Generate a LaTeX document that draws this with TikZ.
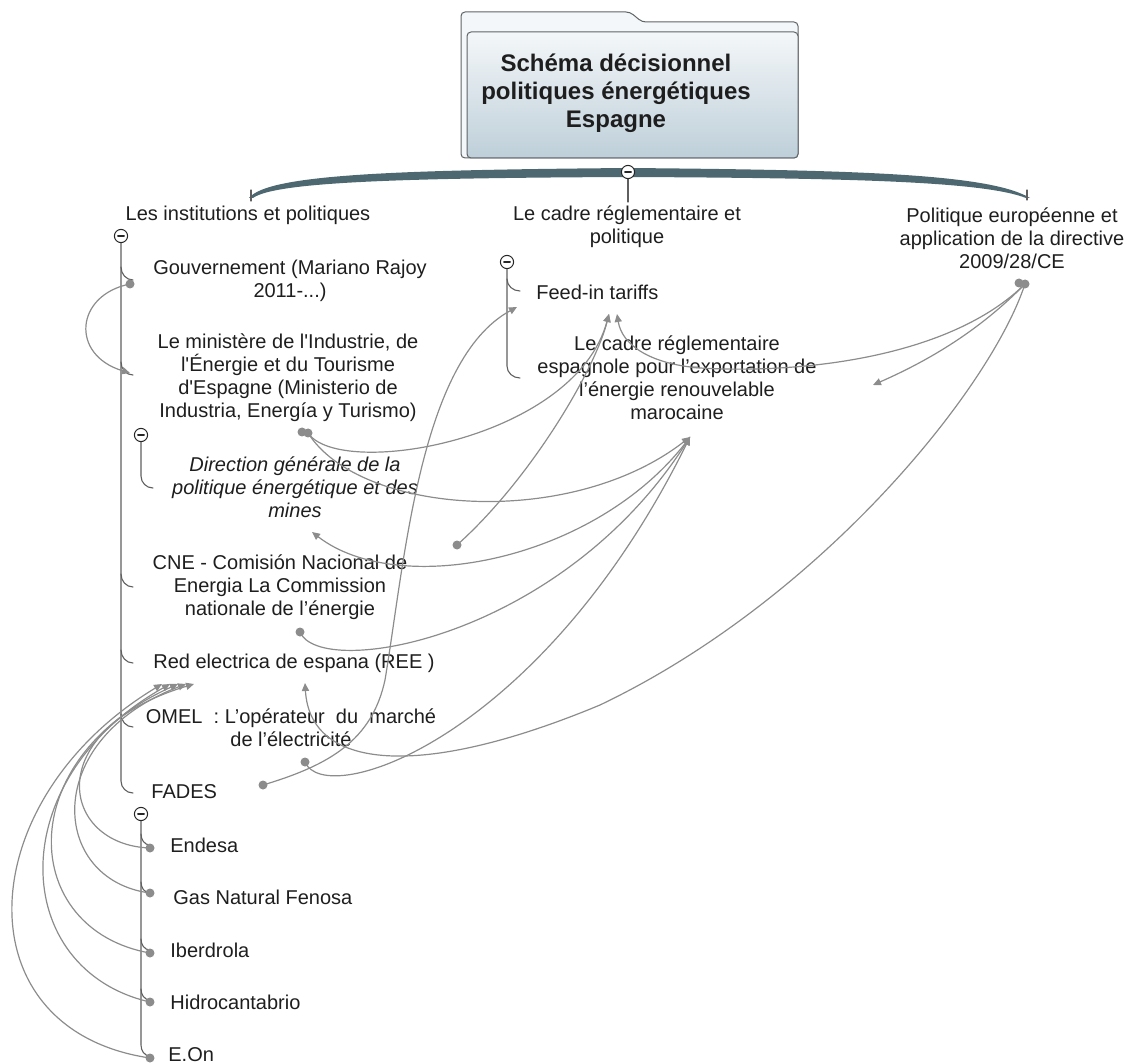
\documentclass[tikz,border=0pt]{standalone}
\usepackage{fontspec}
\setmainfont{Liberation Sans}
\usetikzlibrary{arrows.meta}
\definecolor{linkgray}{RGB}{140,140,140}
\definecolor{treegray}{RGB}{95,95,95}
\definecolor{bandcol}{RGB}{78,104,114}
\definecolor{boxtop}{RGB}{244,247,249}
\definecolor{boxbot}{RGB}{190,207,217}
\definecolor{boxline}{RGB}{95,100,104}
\definecolor{ink}{RGB}{30,30,30}
\newcommand{\apos}{\textquotesingle}
\tikzset{
  topic/.style={align=center,inner sep=0pt,text=ink,font=\fontsize{10}{11.5}\selectfont},
  knob/.style={circle,draw=black!85,fill=white,minimum size=6.6pt,inner sep=0pt,line width=.5pt,
    path picture={\draw[line width=.6pt] ([xshift=-1.6pt]path picture bounding box.center) -- ([xshift=1.6pt]path picture bounding box.center);}},
  tree/.style={draw=treegray,line width=.55pt},
  link/.style={draw=linkgray,line width=.6pt,-{Triangle[length=4pt,width=3.6pt]}},
  linkdot/.style={circle,fill=linkgray,inner sep=0pt,minimum size=4.5pt}
}
\begin{document}
\begin{tikzpicture}[x=0.5pt,y=-0.5pt,line join=round,line cap=round]
\useasboundingbox (0,0) rectangle (1131,1064);
% central topic
\draw[boxline,fill=boxtop,rounded corners=2pt,line width=.5pt] (461,158) -- (461,12) -- (630,12) -- (642,22) -- (798,22) -- (798,158) -- cycle;
\draw[boxline,top color=boxtop,bottom color=boxbot,rounded corners=2pt,line width=.5pt] (467,32) rectangle (798,158);
\node[topic,font=\fontsize{12}{14}\selectfont\bfseries] (root) at (616,93) {Schéma décisionnel\\politiques énergétiques\\Espagne};
% main band
\fill[bandcol] (249,198) .. controls (268,174) and (400,170) .. (628,168) .. controls (860,170) and (990,174) .. (1030,198)
  -- (1026,198) .. controls (985,182) and (860,178) .. (628,177) .. controls (400,178) and (275,182) .. (253,198) -- cycle;
\draw[tree] (628,178) -- (628,202);
\node[knob] (k-root) at (628,172) {};
% main topics
\node[topic] (inst) at (248,215) {Les institutions et politiques};
\node[topic] (cadre) at (627,227) {Le cadre réglementaire et\\politique};
\node[topic] (europe) at (1012,238) {Politique européenne et\\application de la directive\\2009/28/CE};
% institutions
\node[topic] (gouv) at (290,281) {Gouvernement (Mariano Rajoy\\2011-...)};
\node[topic] (minis) at (288,378) {Le ministère de l\apos Industrie, de\\l\apos Énergie et du Tourisme\\d\apos Espagne (Ministerio de\\Industria, Energía y Turismo)};
\node[topic,font=\fontsize{10}{11.5}\selectfont\itshape] (dgpe) at (295,487) {Direction générale de la\\politique énergétique et des\\mines};
\node[topic] (cne) at (280,587) {CNE - Comisión Nacional de\\Energia La Commission\\nationale de l’énergie};
\node[topic] (ree) at (294,663) {Red electrica de espana (REE )};
\node[topic] (omel) at (291,728) {OMEL\ \ :\ L’opérateur\ \ du\ \ marché\\de l’électricité};
\node[topic,anchor=west] (fades) at (151,792) {FADES};
\node[topic,anchor=west] (endesa) at (170,845) {Endesa};
\node[topic,anchor=west] (gasnat) at (173,897) {Gas Natural Fenosa};
\node[topic,anchor=west] (iberdrola) at (170,950) {Iberdrola};
\node[topic,anchor=west] (hidro) at (170,1002) {Hidrocantabrio};
\node[topic,anchor=west] (eon) at (168,1055) {E.On};
% cadre
\node[topic,anchor=west] (feedin) at (536,292) {Feed-in tariffs};
\node[topic] (cadresp) at (677,378) {Le cadre réglementaire\\espagnole pour l’exportation de\\l’énergie renouvelable\\marocaine};
% tree lines
\draw[tree] (251,190) -- (251,201);
\draw[tree] (1027,190) -- (1027,200);
\draw[tree] (121,242) -- (121,781) to[out=-90,in=180] (133,793);
\foreach \y in {280,375,587,663,727}
  \draw[tree] (121,\y-13) to[out=-90,in=180] (133,\y);
\node[knob] (k-inst) at (121,236) {};
\draw[tree] (141,441) -- (141,476) to[out=-90,in=180] (153,488);
\node[knob] (k-minis) at (141,435) {};
\draw[tree] (141,820) -- (141,1045) to[out=-90,in=180] (150,1056);
\foreach \y in {845,893,950,1000}
  \draw[tree] (141,\y-11) to[out=-90,in=180] (150,\y);
\node[knob] (k-fades) at (141,814) {};
\draw[tree] (507,268) -- (507,366) to[out=-90,in=180] (520,378);
\draw[tree] (507,279) to[out=-90,in=180] (520,291);
\node[knob] (k-cadre) at (507,262) {};
% link end points
\coordinate (gouv-o) at (130,284);
\coordinate (minis-i) at (130,373);
\coordinate (minis-o) at (308,433);
\coordinate (dgpe-o) at (457,545);
\coordinate (dgpe-i) at (312,532);
\coordinate (cne-o) at (300,632);
\coordinate (ree-i) at (305,683);
\coordinate (omel-o) at (305,762);
\coordinate (fades-o) at (263,785);
\coordinate (feed-a) at (517,307);
\coordinate (feed-b) at (609,314);
\coordinate (feed-c) at (617,314);
\coordinate (cadresp-i) at (690,437);
\coordinate (cadresp-r) at (873,385);
\coordinate (europe-o) at (1025,284);
% relationships
\draw[link] (gouv-o) .. controls (75,295) and (70,355) .. (minis-i);
\draw[link] (minis-o) .. controls (340,480) and (575,440) .. (feed-b);
\draw[link] (fades-o) .. controls (330,765) and (372,740) .. (385,680) .. controls (405,560) and (420,360) .. (feed-a);
\draw[link] (dgpe-o) .. controls (530,480) and (595,370) .. (feed-b);
\draw[link] (europe-o) .. controls (950,358) and (800,374) .. (700,368) .. controls (650,364) and (622,345) .. (feed-c);
\draw[link] (europe-o) .. controls (980,330) and (930,360) .. (cadresp-r);
\draw[link] (europe-o) .. controls (990,390) and (820,600) .. (600,705) .. controls (420,780) and (310,770) .. (ree-i);
\draw[link] (minis-o) .. controls (360,515) and (570,530) .. (cadresp-i);
\draw[link] (cadresp-i) .. controls (600,560) and (400,600) .. (dgpe-i);
\draw[link] (cne-o) .. controls (320,680) and (560,640) .. (cadresp-i);
\draw[link] (omel-o) .. controls (325,810) and (540,740) .. (cadresp-i);
\draw[link] (150,848) .. controls (60,845) and (40,730) .. (194,684);
\draw[link] (150,893) .. controls (50,880) and (40,740) .. (186,684);
\draw[link] (150,953) .. controls (20,930) and (10,760) .. (178,684);
\draw[link] (150,1002) .. controls (10,970) and (0,780) .. (170,684);
\draw[link] (150,1058) .. controls (-40,1030) and (-30,800) .. (162,684);
% start dots
\foreach \p in {(gouv-o),(minis-o),(dgpe-o),(cne-o),(omel-o),(fades-o),(150,848),(150,893),(150,953),(150,1002),(150,1058)}
  \node[linkdot] at \p {};
\node[linkdot] at (302,432) {};
\node[linkdot] at (1019,283) {};
\node[linkdot] at (europe-o) {};
\end{tikzpicture}
\end{document}
